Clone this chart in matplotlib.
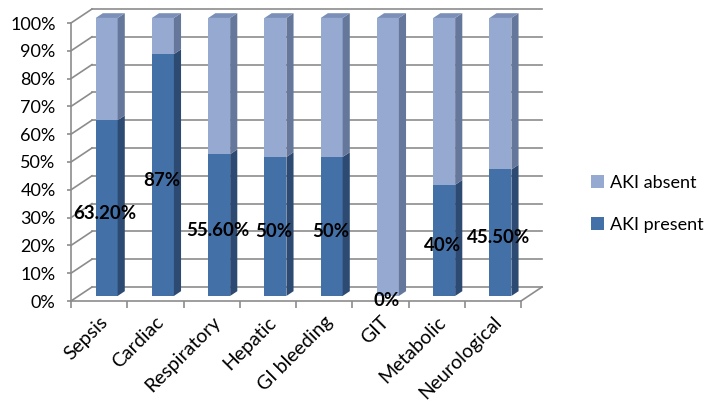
import matplotlib
matplotlib.use("Agg")
import matplotlib.pyplot as plt
from matplotlib.patches import Polygon
import numpy as np

categories = ["Sepsis", "Cardiac", "Respiratory", "Hepatic", "GI bleeding", "GIT", "Metabolic", "Neurological"]
aki_present = [63.2, 87, 51, 50, 50, 0, 40, 45.5]
aki_absent = [100 - v for v in aki_present]
present_labels = ["63.20%", "87%", "55.60%", "50%", "50%", "0%", "40%", "45.50%"]
y_ticks = list(range(0, 101, 10))
y_tick_labels = [f"{t}%" for t in y_ticks]

FONT = ["Lato", "DejaVu Sans"]
plt.rcParams["font.family"] = FONT

fig = plt.figure(figsize=(7.09, 4.09), dpi=100)
ax = fig.add_axes([71 / 709, 1 - 301 / 409, 450 / 709, 278 / 409])
n = len(categories)
ax.set_xlim(-0.5, n - 0.5)
ax.set_ylim(0, 100)

# oblique depth (z from 0 front to 1 back), in data units
DZX = 21 / 56.25
DZY = 14 / 2.78
GRID = "#8c8c8c"

# back wall + left wall grid
for t in y_ticks:
    ax.plot([-0.5, -0.5 + DZX], [t, t + DZY], color=GRID, lw=1.2, clip_on=False, zorder=1)
    ax.plot([-0.5 + DZX, n - 0.5 + DZX], [t + DZY, t + DZY], color=GRID, lw=1.2, clip_on=False, zorder=1)
# floor right edge
ax.plot([n - 0.5, n - 0.5 + DZX], [0, DZY], color=GRID, lw=1.2, clip_on=False, zorder=1)

# bars
z0, z1 = 0.36, 0.70
bw = 0.39
xc = np.arange(n) + z0 * DZX
base = z0 * DZY
dx = (z1 - z0) * DZX
dy = (z1 - z0) * DZY

C_P_FRONT, C_P_SIDE, C_P_TOP = "#4470a8", "#2d4a73", "#3b5f91"
C_A_FRONT, C_A_SIDE, C_A_TOP = "#95a9d1", "#65779a", "#7b8fb8"

ax.bar(xc, aki_present, bw, bottom=base, color=C_P_FRONT, zorder=3, clip_on=False, label="AKI present")
ax.bar(xc, aki_absent, bw, bottom=[base + p for p in aki_present], color=C_A_FRONT, zorder=3,
       clip_on=False, label="AKI absent")

for i in range(n):
    xl, xr = xc[i] - bw / 2, xc[i] + bw / 2
    segs = [(base, base + aki_present[i], C_P_SIDE), (base + aki_present[i], base + 100, C_A_SIDE)]
    for yb, yt, col in segs:
        if yt - yb <= 0:
            continue
        ax.add_patch(Polygon([(xr, yb), (xr + dx, yb + dy), (xr + dx, yt + dy), (xr, yt)],
                             closed=True, facecolor=col, edgecolor="none", zorder=3, clip_on=False))
    ytop = base + 100
    ax.add_patch(Polygon([(xl, ytop), (xr, ytop), (xr + dx, ytop + dy), (xl + dx, ytop + dy)],
                         closed=True, facecolor=C_A_TOP, edgecolor="none", zorder=3, clip_on=False))

# data labels
for i in range(n):
    ax.text(i + 0.11, aki_present[i] / 2, present_labels[i], ha="center", va="center",
            fontsize=13.5, fontweight="bold", color="black", zorder=5, clip_on=False)

# axes styling
for s in ["top", "right"]:
    ax.spines[s].set_visible(False)
for s in ["left", "bottom"]:
    ax.spines[s].set_color(GRID)
    ax.spines[s].set_linewidth(1.2)
    ax.spines[s].set_zorder(2)

ax.set_yticks(y_ticks)
ax.set_yticklabels(y_tick_labels, fontsize=13)
ax.tick_params(axis="y", direction="out", length=3, width=1.2, color=GRID, pad=8)

ax.set_xticks(np.arange(n))
ax.set_xticklabels(categories, rotation=45, ha="right", rotation_mode="anchor", fontsize=14)
ax.set_xticks(np.arange(n + 1) - 0.5, minor=True)
ax.tick_params(axis="x", which="major", length=0, pad=9)
ax.tick_params(axis="x", which="minor", direction="out", length=5, width=1.2, color=GRID)

handles, labels = ax.get_legend_handles_labels()
leg = fig.legend(handles[::-1], labels[::-1], loc="center left", bbox_to_anchor=(591 / 709, 1 - 204 / 409),
                 frameon=False, fontsize=13, handlelength=0.7, handleheight=0.7,
                 handletextpad=0.35, labelspacing=1.45, borderpad=0, borderaxespad=0)

fig.savefig("out.png", dpi=100)
